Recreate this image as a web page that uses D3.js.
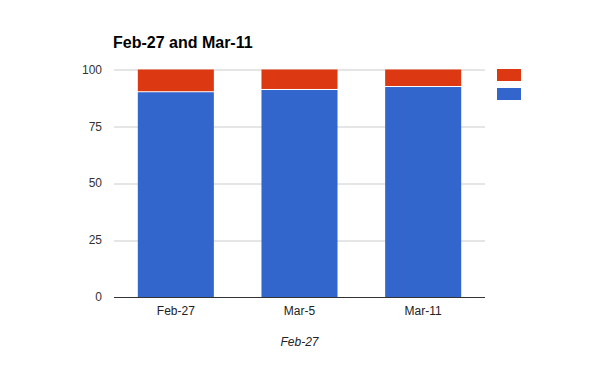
<!DOCTYPE html>
<html>
<head>
<meta charset="utf-8">
<script src="https://cdn.jsdelivr.net/npm/d3@7"></script>
<style>
  body { margin: 0; background: #fff; }
  text { font-family: Arial, "Liberation Sans", sans-serif; }
</style>
</head>
<body>
<div class="chart"></div>
<script>
var svgWidth = 597;
var svgHeight = 366;

// data
var categories = ["Feb-27", "Mar-5", "Mar-11"];
var blueValues = [90, 91, 92.3];
var redValues = [10, 9, 7.7];
var yTicks = [0, 25, 50, 75, 100];

var margin = { top: 69.5, left: 114, right: 112, bottom: 69 };
var width = svgWidth - margin.left - margin.right;
var height = svgHeight - margin.top - margin.bottom;

var svg = d3.select(".chart")
  .append("svg")
  .attr("width", svgWidth)
  .attr("height", svgHeight);

var chartGroup = svg.append("g")
  .attr("transform", `translate(${margin.left}, ${margin.top})`);

var xScale = d3.scaleBand()
  .domain(categories)
  .range([0, width])
  .paddingInner(0.385)
  .paddingOuter(0.1925);

var yScale = d3.scaleLinear()
  .domain([0, 100])
  .range([height, 0]);

// gridlines
chartGroup.selectAll(".grid")
  .data(yTicks.filter(d => d > 0))
  .enter()
  .append("line")
  .attr("x1", 0)
  .attr("x2", width)
  .attr("y1", d => Math.round(yScale(d)) + 0.5)
  .attr("y2", d => Math.round(yScale(d)) + 0.5)
  .attr("stroke", "#cccccc");

// y labels
chartGroup.selectAll(".ylab")
  .data(yTicks)
  .enter()
  .append("text")
  .attr("x", -12)
  .attr("y", d => yScale(d))
  .attr("dy", "0.35em")
  .attr("text-anchor", "end")
  .attr("font-size", 12)
  .attr("fill", "#333")
  .text(d => d);

// stacked bars
var stacked = categories.map((c, i) => ({ cat: c, blue: blueValues[i], red: redValues[i] }));

chartGroup.selectAll(".blue")
  .data(stacked)
  .enter()
  .append("rect")
  .attr("x", d => xScale(d.cat))
  .attr("width", xScale.bandwidth())
  .attr("y", d => yScale(d.blue))
  .attr("height", d => height - yScale(d.blue))
  .attr("fill", "#3366cc");

chartGroup.selectAll(".red")
  .data(stacked)
  .enter()
  .append("rect")
  .attr("x", d => xScale(d.cat))
  .attr("width", xScale.bandwidth())
  .attr("y", d => yScale(d.blue + d.red))
  .attr("height", d => yScale(d.blue) - yScale(d.blue + d.red) - 1)
  .attr("fill", "#dc3912");

// baseline
chartGroup.append("line")
  .attr("x1", 0)
  .attr("x2", width)
  .attr("y1", height + 0.5)
  .attr("y2", height + 0.5)
  .attr("stroke", "#333333");

// x labels
chartGroup.selectAll(".xlab")
  .data(categories)
  .enter()
  .append("text")
  .attr("x", d => xScale(d) + xScale.bandwidth() / 2)
  .attr("y", height + 18)
  .attr("text-anchor", "middle")
  .attr("font-size", 12)
  .attr("fill", "#222")
  .text(d => d);

// x axis title
svg.append("text")
  .attr("x", margin.left + width / 2)
  .attr("y", 346)
  .attr("text-anchor", "middle")
  .attr("font-size", 12)
  .attr("font-style", "italic")
  .attr("fill", "#222")
  .text("Feb-27");

// title
svg.append("text")
  .attr("x", 113)
  .attr("y", 48)
  .attr("font-size", 16)
  .attr("font-weight", "bold")
  .attr("fill", "#000")
  .text("Feb-27 and Mar-11");

// legend (no labels)
var legendColors = ["#dc3912", "#3366cc"];
svg.selectAll(".legend")
  .data(legendColors)
  .enter()
  .append("rect")
  .attr("x", 497)
  .attr("y", (d, i) => 69 + i * 19)
  .attr("width", 24)
  .attr("height", 12)
  .attr("fill", d => d);
</script>
</body>
</html>
